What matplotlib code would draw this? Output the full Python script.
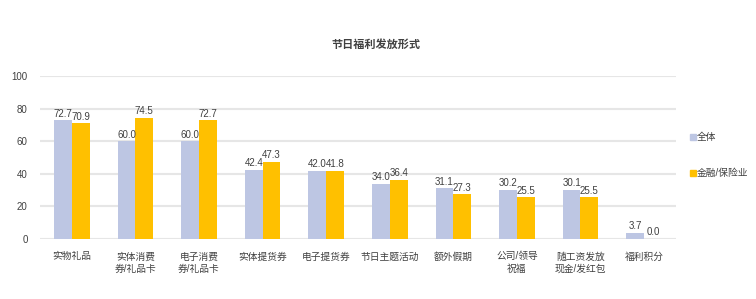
import matplotlib
matplotlib.use('Agg')
import matplotlib.pyplot as plt
import numpy as np

plt.rcParams['font.family'] = ['Liberation Sans', 'Noto Sans CJK SC', 'DejaVu Sans']

# 数据
categories = ['实物礼品', '实体消费\n券/礼品卡', '电子消费\n券/礼品卡', '实体提货券', '电子提货券',
              '节日主题活动', '额外假期', '公司/领导\n祝福', '随工资发放\n现金/发红包', '福利积分']
all_values = [72.7, 60.0, 60.0, 42.4, 42.0, 34.0, 31.1, 30.2, 30.1, 3.7]
finance_values = [70.9, 74.5, 72.7, 47.3, 41.8, 36.4, 27.3, 25.5, 25.5, 0.0]
series_names = ['全体', '金融/保险业']
colors = ['#BDC6E3', '#FFC000']

fig = plt.figure(figsize=(7.56, 2.99), dpi=100)
ax = fig.add_axes([0.053, 0.2007, 0.841, 0.5452])

x = np.arange(len(categories))
w = 0.28
b1 = ax.bar(x - w / 2, all_values, w, color=colors[0], label=series_names[0], zorder=3)
b2 = ax.bar(x + w / 2, finance_values, w, color=colors[1], label=series_names[1], zorder=3)

for bars, vals in ((b1, all_values), (b2, finance_values)):
    for rect, v in zip(bars, vals):
        ax.text(rect.get_x() + rect.get_width() / 2, v + 1, f'{v:.1f}',
                ha='center', va='bottom', fontsize=7, color='#404040')

ax.set_xlim(-0.5, len(categories) - 0.5)
ax.set_ylim(0, 100)
ax.set_yticks(range(0, 101, 20))
ax.yaxis.grid(True, color='#E6E6E6', linewidth=1.5, zorder=0)
ax.set_axisbelow(True)
for s in ax.spines.values():
    s.set_visible(False)
ax.tick_params(axis='both', length=0, labelsize=7, colors='#404040')
ax.tick_params(axis='x', pad=9)
ax.tick_params(axis='y', pad=9)
ax.set_xticks(x)
ax.set_xticklabels(categories, linespacing=1.3)

fig.text(0.497, 0.85, '节日福利发放形式', ha='center', va='center',
         fontsize=8, fontweight='bold', color='#404040')

# 图例
for i, (name, c) in enumerate(zip(series_names, colors)):
    yy = 0.542 - i * 0.12
    fig.patches.append(plt.Rectangle((0.9125, yy - 0.011), 0.0075, 0.022,
                                     transform=fig.transFigure, color=c))
    fig.text(0.922, yy, name, ha='left', va='center', fontsize=7, color='#404040')

plt.savefig('out.png', dpi=100)
